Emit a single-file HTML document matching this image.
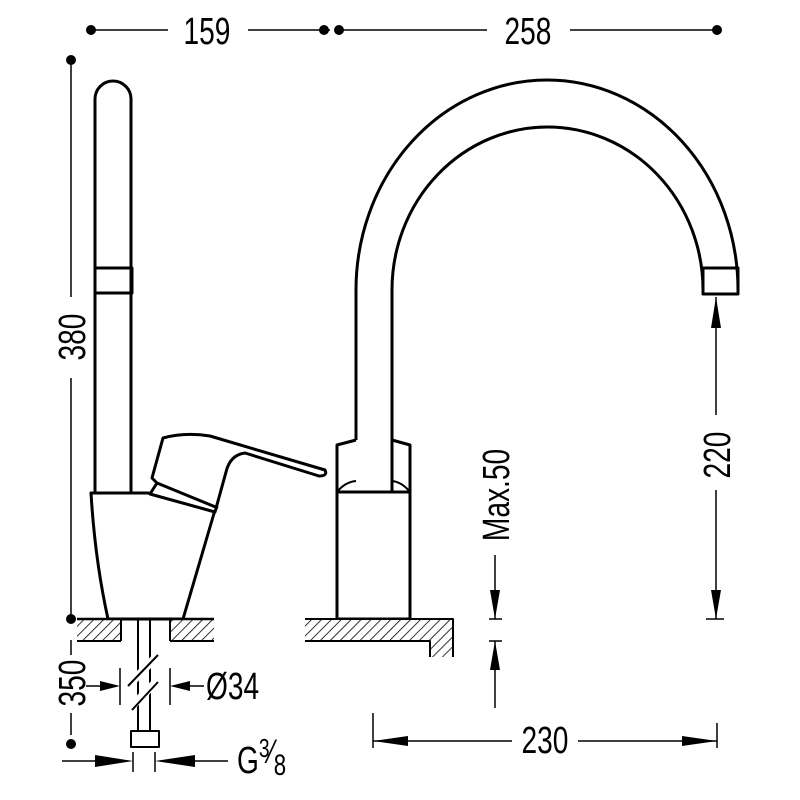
<!DOCTYPE html>
<html><head><style>body{margin:0;background:#fff}svg{display:block}
text{font-family:"Liberation Sans",sans-serif;fill:#000}</style></head><body>
<svg width="800" height="800" viewBox="0 0 800 800" xmlns="http://www.w3.org/2000/svg">
<defs>
<pattern id="h" width="7" height="7" patternUnits="userSpaceOnUse" patternTransform="rotate(45)">
<rect width="7" height="7" fill="#fff"/><line x1="0" y1="0" x2="0" y2="7" stroke="#000" stroke-width="1.6"/></pattern>
</defs>
<g stroke="#000" fill="none" stroke-linejoin="round">
<line x1="91" y1="30" x2="168" y2="30" stroke-width="1.5"/>
<line x1="248" y1="30" x2="330" y2="30" stroke-width="1.5"/>
<line x1="340" y1="30" x2="487" y2="30" stroke-width="1.5"/>
<line x1="570" y1="30" x2="718" y2="30" stroke-width="1.5"/>
<line x1="71" y1="60" x2="71" y2="297" stroke-width="1.5"/>
<line x1="71" y1="378" x2="71" y2="619" stroke-width="1.5"/>
<line x1="71" y1="640" x2="71" y2="655" stroke-width="1.5"/>
<line x1="71" y1="713" x2="71" y2="735" stroke-width="1.5"/>
<path d="M95,493 V99 A18,18 0 0 1 131,99 V493" stroke-width="3"/>
<rect x="95" y="268" width="37" height="25" stroke-width="3"/>
<path d="M91,493 L148,493 L215,510 L183,619 L108,619 Q95,560 91,493 Z" stroke-width="3" fill="#fff"/>
<path d="M163,438 Q185,432 210,436 L325,470 Q328,476 319,476 L245,453 Q230,455 226,472 L215,512 L150,494 L157,483 L152,478 Z" stroke-width="3" fill="#fff"/>
<line x1="157" y1="483" x2="218" y2="508" stroke-width="3"/>
<rect x="77" y="619" width="44" height="22" fill="url(#h)" stroke="none"/>
<rect x="170" y="619" width="44" height="22" fill="url(#h)" stroke="none"/>
<line x1="77" y1="619" x2="214" y2="619" stroke-width="2.5"/>
<line x1="121" y1="619" x2="121" y2="641" stroke-width="2"/>
<line x1="170" y1="619" x2="170" y2="641" stroke-width="2"/>
<line x1="77" y1="641" x2="121" y2="641" stroke-width="2"/>
<line x1="170" y1="641" x2="214" y2="641" stroke-width="2"/>
<line x1="138" y1="619" x2="138" y2="731" stroke-width="2"/>
<line x1="150" y1="619" x2="150" y2="731" stroke-width="2"/>
<rect x="131" y="731" width="28" height="16" stroke-width="2" fill="#fff"/>
<line x1="128" y1="686" x2="158" y2="655" stroke="#fff" stroke-width="8"/>
<line x1="128" y1="710" x2="158" y2="680" stroke="#fff" stroke-width="8"/>
<line x1="128" y1="686" x2="158" y2="655" stroke-width="2"/>
<line x1="132" y1="710" x2="158" y2="682" stroke-width="2"/>
<line x1="120" y1="668" x2="120" y2="705" stroke-width="1.5"/>
<line x1="170" y1="668" x2="170" y2="705" stroke-width="1.5"/>
<line x1="86" y1="686" x2="100" y2="686" stroke-width="1.5"/>
<line x1="190" y1="686" x2="204" y2="686" stroke-width="1.5"/>
<line x1="133" y1="752" x2="133" y2="772" stroke-width="1.5"/>
<line x1="155" y1="752" x2="155" y2="772" stroke-width="1.5"/>
<line x1="62" y1="761" x2="95" y2="761" stroke-width="1.5"/>
<line x1="195" y1="761" x2="228" y2="761" stroke-width="1.5"/>
<path d="M356,440 V290 A191,210 0 0 1 738,290 V294" stroke-width="3"/>
<path d="M392,492 V290 A155.5,163 0 0 1 703,290 V294" stroke-width="3"/>
<rect x="703" y="268" width="35" height="26" stroke-width="3"/>
<path d="M337,492 V445 L356,440 M410,492 V445 L392,440" stroke-width="3"/>
<path d="M337,492 Q345,482 356,481 M410,492 Q402,482 392,481" stroke-width="2"/>
<rect x="337" y="492" width="73" height="127" stroke-width="3"/>
<path d="M305,619 H453 V657 H430 V641 H305 Z" fill="url(#h)" stroke="none"/>
<path d="M305,619 H453 V657 M430,657 V641 H305" stroke-width="2"/>
<line x1="495" y1="555" x2="495" y2="619" stroke-width="1.5"/>
<line x1="489" y1="619" x2="502" y2="619" stroke-width="1.5"/>
<line x1="489" y1="641" x2="502" y2="641" stroke-width="1.5"/>
<line x1="495" y1="641" x2="495" y2="708" stroke-width="1.5"/>
<line x1="716" y1="297" x2="716" y2="415" stroke-width="1.5"/>
<line x1="716" y1="490" x2="716" y2="619" stroke-width="1.5"/>
<line x1="706" y1="619" x2="724" y2="619" stroke-width="1.5"/>
<line x1="373" y1="713" x2="373" y2="748" stroke-width="1.5"/>
<line x1="717" y1="723" x2="717" y2="748" stroke-width="1.5"/>
<line x1="373" y1="741" x2="512" y2="741" stroke-width="1.5"/>
<line x1="578" y1="741" x2="717" y2="741" stroke-width="1.5"/>
</g>
<g fill="#000">
<circle cx="91" cy="30" r="5"/><circle cx="324" cy="30" r="5"/><circle cx="339" cy="30" r="5"/><circle cx="717" cy="30" r="5"/>
<circle cx="71" cy="60" r="5"/><circle cx="71" cy="619" r="5"/><circle cx="71" cy="744" r="5"/>
<polygon points="120,686 100,681 100,691"/><polygon points="170,686 190,681 190,691"/>
<polygon points="133,761 95,755 95,767"/><polygon points="155,761 195,755 195,767"/>
<polygon points="495,619 490,590 500,590"/><polygon points="495,641 490,670 500,670"/>
<polygon points="716,297 711,328 721,328"/><polygon points="716,619 711,590 721,590"/>
<polygon points="373,741 408,736 408,746"/><polygon points="717,741 682,736 682,746"/>
</g>
<g font-size="38">
<text transform="translate(207,44) scale(0.74,1)" text-anchor="middle">159</text>
<text transform="translate(528,44) scale(0.74,1)" text-anchor="middle">258</text>
<text transform="translate(545,753) scale(0.74,1)" text-anchor="middle">230</text>
<text transform="translate(85,337) rotate(-90) scale(0.74,1)" text-anchor="middle">380</text>
<text transform="translate(85,683) rotate(-90) scale(0.74,1)" text-anchor="middle">350</text>
<text transform="translate(730,455) rotate(-90) scale(0.74,1)" text-anchor="middle">220</text>
<text transform="translate(509,495) rotate(-90) scale(0.74,1)" text-anchor="middle">Max.50</text>
<text transform="translate(206,699) scale(0.74,1)">Ø34</text>
<text transform="translate(237,773) scale(0.74,1)">G<tspan font-size="26" dy="-16">3</tspan><tspan font-size="34" dy="6">⁄</tspan><tspan font-size="30" dy="12">8</tspan></text>
</g>
</svg>
</body></html>
